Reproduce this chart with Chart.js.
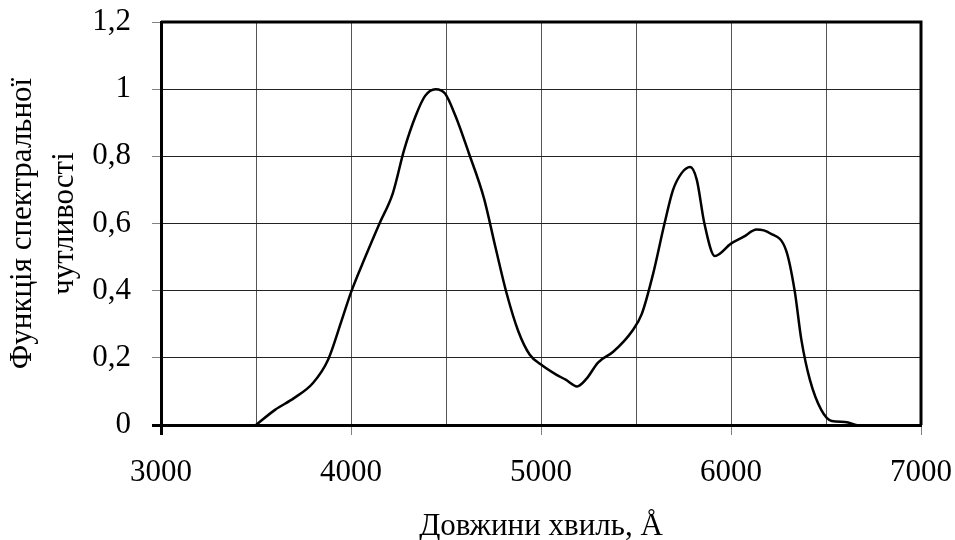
<!DOCTYPE html>
<html>
<head>
<meta charset="utf-8">
<script src="https://cdn.jsdelivr.net/npm/chart.js@4.4.1/dist/chart.umd.min.js"></script>
<style>
  html, body { margin: 0; padding: 0; background: #fff; }
  #wrap { width: 955px; height: 540px; }
</style>
</head>
<body>
<div id="wrap"><canvas id="graph" width="955" height="540"></canvas></div>
<script>
// wavelength, Angstrom
var wavelength = [3500, 3600, 3700, 3800, 3880, 3950, 4000, 4075, 4150, 4220, 4280, 4340, 4390, 4445, 4495,
  4550, 4620, 4700, 4760, 4820, 4880, 4940, 5000, 5080, 5130, 5190, 5240, 5300, 5380, 5480, 5530,
  5590, 5650, 5695, 5740, 5785, 5820, 5860, 5915, 6000, 6065, 6135, 6205, 6290, 6335, 6370, 6415,
  6475, 6530, 6600, 6660];
// relative spectral sensitivity
var sensitivity = [0, 0.045, 0.08, 0.125, 0.195, 0.31, 0.395, 0.5, 0.6, 0.69, 0.82, 0.92, 0.98, 1.0, 0.987,
  0.92, 0.81, 0.675, 0.53, 0.39, 0.28, 0.21, 0.18, 0.15, 0.135, 0.115, 0.138, 0.186, 0.218, 0.28, 0.33,
  0.45, 0.6, 0.7, 0.75, 0.768, 0.73, 0.6, 0.503, 0.54, 0.56, 0.582, 0.571, 0.52, 0.4, 0.255, 0.135,
  0.045, 0.012, 0.009, 0];

var xTitle = "Довжини хвиль, Å";
var yTitle = ["Функція спектральної", "чутливості"];
var serif = "'Liberation Serif', 'Times New Roman', serif";

//draws top and right edges of the plot frame
const framePlugin = {
  id: "frame",
  afterDatasetsDraw(chart) {
    const a = chart.chartArea;
    const ctx = chart.ctx;
    ctx.save();
    ctx.strokeStyle = "#000";
    ctx.lineWidth = 3;
    ctx.beginPath();
    ctx.moveTo(a.left, a.top);
    ctx.lineTo(a.right, a.top);
    ctx.lineTo(a.right, a.bottom);
    ctx.stroke();
    ctx.restore();
  }
};

const graph = new Chart("graph", {
  type: "scatter",
  data: {
    datasets: [{
      data: wavelength.map((w, i) => ({ x: w, y: sensitivity[i] })),
      showLine: true,
      borderColor: "#000",
      borderWidth: 2.5,
      pointRadius: 0,
      cubicInterpolationMode: "monotone"
    }]
  },
  options: {
    responsive: false,
    animation: false,
    devicePixelRatio: 1,
    layout: { padding: { top: 22, right: 34, left: 0, bottom: 0 } },
    plugins: { legend: { display: false }, tooltip: { enabled: false } },
    scales: {
      x: {
        type: "linear", min: 3000, max: 7000,
        afterFit: s => { s.height = 115; s.paddingLeft = 0; s.paddingRight = 0; },
        ticks: {
          stepSize: 500, autoSkip: false, maxRotation: 0, padding: 19.5, color: "#000",
          font: { family: serif, size: 31 },
          callback: v => (v % 1000 === 0 ? String(v) : "")
        },
        grid: {
          color: "#555", lineWidth: 1, tickLength: 10,
          tickColor: ctx => (ctx.tick.value % 1000 === 0 ? (ctx.tick.value === 3000 ? "#000" : "#808080") : "rgba(0,0,0,0)"),
          tickWidth: ctx => (ctx.tick.value === 3000 ? 3 : 1)
        },
        border: { display: true, color: "#000", width: 3 },
        title: { display: true, text: xTitle, color: "#000", padding: 0, font: { family: serif, size: 31, lineHeight: "27px" } }
      },
      y: {
        min: 0, max: 1.2,
        afterFit: s => { s.width = 161; s.paddingTop = 0; s.paddingBottom = 0; },
        ticks: {
          stepSize: 0.2, padding: 21, color: "#000",
          font: { family: serif, size: 31 },
          callback: v => String(Math.round(v * 10) / 10).replace(".", ",")
        },
        grid: {
          color: "#222", lineWidth: 1, tickLength: 9,
          tickColor: ctx => (ctx.tick.value === 0 ? "#000" : "#808080"),
          tickWidth: ctx => (ctx.tick.value === 0 ? 3 : 1)
        },
        border: { display: true, color: "#000", width: 3 },
        title: { display: true, text: yTitle, color: "#000", padding: { top: 1.5, bottom: 0 }, font: { family: serif, size: 31, lineHeight: "42px" } }
      }
    }
  },
  plugins: [framePlugin]
});
</script>
</body>
</html>
